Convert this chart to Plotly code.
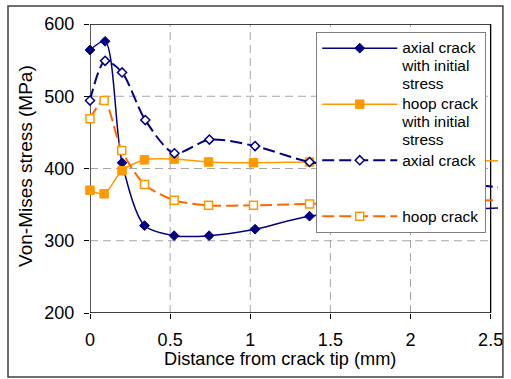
import plotly.graph_objects as go

# Distance from crack tip (mm) and von Mises stress (MPa) for each case
axial_init_x = [0, 0.094, 0.2, 0.34, 0.525, 0.743, 1.03, 1.37, 2.06, 2.75]
axial_init_y = [564, 576, 408, 321, 307, 307, 316, 334, 341, 347]

hoop_init_x = [0, 0.088, 0.2, 0.34, 0.525, 0.74, 1.02, 1.37, 2.06, 2.75]
hoop_init_y = [370, 365, 397, 412, 413, 409, 408, 409, 410, 411]

axial_x = [0, 0.094, 0.2, 0.345, 0.527, 0.745, 1.03, 1.37, 2.06, 2.75]
axial_y = [494, 549, 533, 467, 421, 440, 431, 409, 388, 368]

hoop_x = [0, 0.088, 0.198, 0.34, 0.525, 0.74, 1.02, 1.37, 2.06, 2.75]
hoop_y = [469, 494, 425, 378, 356, 349, 349, 351, 354, 357]

series_names = [
    ["axial crack", "with initial", "stress"],
    ["hoop crack", "with initial", "stress"],
    ["axial crack", "\u00a0", "\u00a0"],
    ["hoop crack"],
]

x_ticks = [0, 0.5, 1, 1.5, 2, 2.5]
y_ticks = [200, 300, 400, 500, 600]

x_title = "Distance from crack tip (mm)"
y_title = "Von-Mises stress (MPa)"

NAVY = "#000080"
ORANGE = "#FF9900"
RED_ORANGE = "#FF6600"
FONT = "Liberation Sans, Arial, sans-serif"


def legend_label(lines):
    # glyphs a little larger than the legend's own line pitch
    return "<br>".join('<span style="font-size:15.5px">%s</span>' % s for s in lines)


fig = go.Figure()

fig.add_trace(go.Scatter(
    x=axial_init_x, y=axial_init_y, mode="lines+markers",
    name=legend_label(series_names[0]),
    line=dict(color=NAVY, width=1.5, shape="spline", smoothing=0.8),
    marker=dict(symbol="diamond", size=7.5, color=NAVY, line=dict(color=NAVY, width=1)),
    cliponaxis=False,
))
fig.add_trace(go.Scatter(
    x=hoop_init_x, y=hoop_init_y, mode="lines+markers",
    name=legend_label(series_names[1]),
    line=dict(color=ORANGE, width=1.5, shape="spline", smoothing=0.8),
    marker=dict(symbol="square", size=8.5, color=ORANGE, line=dict(color=ORANGE, width=1)),
    cliponaxis=False,
))
fig.add_trace(go.Scatter(
    x=axial_x, y=axial_y, mode="lines+markers",
    name=legend_label(series_names[2]),
    line=dict(color=NAVY, width=2, dash="12px,5px", shape="spline", smoothing=0.8),
    marker=dict(symbol="diamond", size=7, color="white", line=dict(color=NAVY, width=1.5)),
    cliponaxis=False,
))
fig.add_trace(go.Scatter(
    x=hoop_x, y=hoop_y, mode="lines+markers",
    name=legend_label(series_names[3]),
    line=dict(color=RED_ORANGE, width=2, dash="12px,5px", shape="spline", smoothing=0.8),
    marker=dict(symbol="square", size=8, color="white", line=dict(color=ORANGE, width=1.5)),
    cliponaxis=False,
))

shapes = []
# dashed grid inside the plot frame
for xv in x_ticks[1:-1]:
    shapes.append(dict(type="line", xref="x", yref="y", x0=xv, x1=xv, y0=200, y1=600,
                       line=dict(color="#A6A6A6", width=1, dash="8px,5px"), layer="below"))
for yv in y_ticks[1:-1]:
    shapes.append(dict(type="line", xref="x", yref="y", x0=0, x1=2.5, y0=yv, y1=yv,
                       line=dict(color="#A6A6A6", width=1, dash="8px,5px"), layer="below"))
# plot frame
shapes.append(dict(type="rect", xref="x", yref="y", x0=0, x1=2.5, y0=200, y1=600,
                   line=dict(color="#000000", width=1.3), fillcolor="rgba(0,0,0,0)", layer="below"))
# chart border
shapes.append(dict(type="rect", xref="paper", yref="paper", x0=-0.201, x1=1.012,
                   y0=-0.2215, y1=1.0623, line=dict(color="#404040", width=1.5),
                   fillcolor="rgba(0,0,0,0)"))

# axis titles, centred on the chart area
annotations = [
    dict(text=x_title, xref="paper", yref="paper", x=0.465, y=-0.159,
         xanchor="center", yanchor="middle", showarrow=False, font=dict(size=18.2)),
    dict(text=y_title, xref="paper", yref="paper", x=-0.157, y=0.5087, textangle=-90,
         xanchor="center", yanchor="middle", showarrow=False, font=dict(size=19)),
]

fig.update_layout(
    width=511, height=379,
    margin=dict(l=90, r=8, t=24, b=66),
    paper_bgcolor="white", plot_bgcolor="white",
    font=dict(family=FONT, color="black", size=18),
    shapes=shapes,
    annotations=annotations,
    showlegend=True,
    legend=dict(
        x=0.5545, y=0.973, xanchor="left", yanchor="top",
        bgcolor="white", bordercolor="#808080", borderwidth=1,
        font=dict(family=FONT, size=13.6, color="black"),
        valign="top", itemwidth=75,
    ),
    xaxis=dict(
        range=[0, 2.546], tickvals=x_ticks, ticktext=[str(v) for v in x_ticks],
        showgrid=False, zeroline=False, showline=False,
        ticks="outside", ticklen=5, tickcolor="black", tickwidth=1,
        tickfont=dict(size=18), ticklabelstandoff=5,
    ),
    yaxis=dict(
        range=[200, 600], tickvals=y_ticks,
        showgrid=False, zeroline=False, showline=False,
        ticks="outside", ticklen=5, tickcolor="black", tickwidth=1,
        tickfont=dict(size=18), ticklabelstandoff=6,
    ),
)

fig.write_html("out.html")
